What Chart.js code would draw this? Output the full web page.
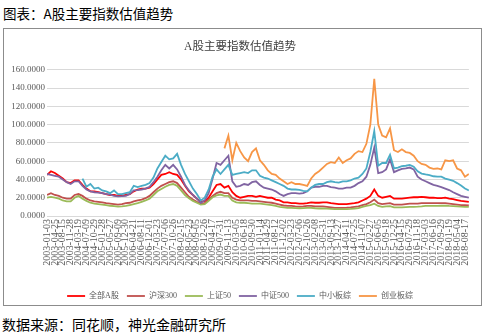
<!DOCTYPE html>
<html><head><meta charset="utf-8">
<script src="https://cdn.jsdelivr.net/npm/chart.js@4.4.1/dist/chart.umd.min.js"></script>
<style>
html,body{margin:0;padding:0;background:#fff;width:485px;height:335px;overflow:hidden;}
#hdr{position:absolute;left:3px;top:3px;font-size:13.5px;font-family:'Noto Sans CJK SC';color:#000;line-height:20px;white-space:nowrap;}
#box{position:absolute;left:3px;top:28px;width:479px;height:278px;box-sizing:border-box;border:1.5px solid #8c8c8c;}
#ftr{position:absolute;left:2px;top:314px;font-size:14px;font-family:'Noto Sans CJK SC';color:#000;line-height:20px;white-space:nowrap;}
#c{position:absolute;left:4px;top:29px;}
</style></head>
<body>
<div id="hdr">图表：A股主要指数估值趋势</div>
<div id="box"></div>
<canvas id="c" width="476" height="285"></canvas>
<div id="ftr">数据来源：同花顺，神光金融研究所</div>
<script>
// x-axis tick labels (weekly dates shown on the category axis)
const xLabels = [
 '2003-01-03','2003-04-25','2003-08-15','2003-11-28','2004-03-19','2004-07-09','2004-10-29',
 '2005-01-28','2005-05-27','2005-09-09','2005-12-30','2006-04-21','2006-08-11','2006-12-01',
 '2007-03-23','2007-07-06','2007-10-26','2008-02-15','2008-05-23','2008-09-05','2008-12-26',
 '2009-04-17','2009-07-31','2009-11-13','2010-03-05','2010-06-18','2010-09-30','2011-01-14',
 '2011-04-29','2011-08-12','2011-12-02','2012-03-23','2012-07-06','2012-10-26','2013-02-08',
 '2013-05-31','2013-09-13','2013-12-27','2014-04-11','2014-07-25','2014-11-07','2015-02-27',
 '2015-06-05','2015-09-18','2015-12-25','2016-04-15','2016-07-29','2016-11-18','2017-03-03',
 '2017-06-16','2017-09-29','2018-01-19','2018-05-04','2018-08-17'
];
// samples every half tick-interval along the axis
const STEP = 0.5;
const seriesNames = ['全部A股','沪深300','上证50','中证500','中小板综','创业板综'];
const allA = [
 45,49,47,44,41,37,36,39,39,34,
 30,27,27,26,25,24,23,23,22,22,
 23,24,27,29,30,30,31,35,40,45,
 46,48,46,45,40,33,27,23,19,16,
 16,20,27,34,35,31,33,26,22,20,
 21,22,22,21,22,21,20,20,18,17,
 15,15,14,14,13.5,13.5,14,15,14.5,14.5,
 15,15,14,13.5,13,13,13,13.5,14,15,
 17,19,22,29,22,20,21,22,19,19,
 19,19.5,20,20.5,20.5,21,20.5,20,20,19.5,
 19.5,20,19,18.5,17.5,16.5,16,15.5
];
const hs300 = [
 23,25,23,22,20,19,19,23,24,22,
 19,17,16,15.5,15,14,13.5,13,12.5,13,
 14,14.5,16,17,18,19.5,22,26,30,33,
 35,37,38,36,31,26,21,18,15.5,13.5,
 14,18,22,25,26.5,25,25,20,18,17,
 17,17,16.5,16.5,16,15.5,15,14.5,13.5,12.5,
 11.5,11,11,10.5,10.2,10.5,11,11,10.5,10.5,
 10.5,10,9.5,9,9,9,9.2,9.5,10,10.5,
 12,13,15,18,14,13,13.5,14,12.5,12.5,
 12.5,13,13.5,13.5,13.5,14,14,14,14,14,
 14,14,13.5,13,12.5,12,12,11.5
];
const sz50 = [
 20,21,20,19,17,16,16,20,22,19,
 16.5,14.5,13.5,13,12.5,12,11.2,10.8,10.3,10.5,
 11,12,13,14,15.5,17,19,23,27,29.5,
 32,34,35,33,28,23,19.5,16.5,14.5,12.5,
 13,16.5,20.5,22.5,23.5,22,22,17,15,14.5,
 14.5,14,13.5,13.5,13.5,13,12.5,12,11,10,
 9.5,9,9,8.6,8.5,8.7,9,9,8.5,8.2,
 8.2,8,7.8,7.5,7.5,7.5,7.6,7.8,8.2,8.7,
 10,11,12,13.5,11,10,10.5,10.8,9.5,9.5,
 9.5,9.8,10,10,10.2,10.5,11,11,11,11,
 11.2,11.3,11,10.8,10.5,10.2,10,10
];
const zz500 = [
 46,45,44,43,40,37,35,38,38,33,
 29,27,26,25.5,25,24,23.4,22,21.5,21.7,
 22,24,28,28.4,29,30,32,37,43,50,
 56,52,56,51,43,34,28,23,19,14.5,
 17,25,41,58,56,61,66,38,32,33,
 35,34,37,38,34,31,30,29,27,24,
 22,24,25,25,24.5,25,27,31,32,32,
 33,33,31.5,31,30,30,31,31,33,36,
 38,43,56,75,47,48,51,62,48,50,
 51.5,52,53,51,43,40,38,36,34,33,
 31.6,30,28.4,26,24,22,21,20
];
const zxb = [
 null,null,null,null,null,null,null,null,null,41,
 32,35,30,31,28,27,25,28,24,24,
 25,26,33,31.6,33,34,36,42,52,59,
 66,62,63,68,56,46,38,30,24,17,
 20,29,43,51,46,51,56,45,46,47,
 48,47,50,50,44,42,41,39,37,35,
 33,30,29,29,28.5,27.5,27,31,34,35,
 35,37,38,37,36.5,38,38,39,41,42,
 46,52,70,93,55,58,58,67,52,53,
 54.6,55,56,54,49,46.4,45.5,44.8,43.5,43,
 43,41,39.8,38.5,36,33.3,30,28
];
const cyb = [
 null,null,null,null,null,null,null,null,null,null,
 null,null,null,null,null,null,null,null,null,null,
 null,null,null,null,null,null,null,null,null,null,
 null,null,null,null,null,null,null,null,null,null,
 null,null,null,null,null,74,88,61,80,71,
 64,60,70,74,61,56,50,46,45,41,
 38,35,37,35,35,34,33,41,46,49,
 53,57,59,58,64,58,61,63,68,71,
 70,79,100,150,100,88,86,96,72,70,
 73,70,69,66,60,57,56,53,51.5,52,
 51,61,60,61,52,50,43,46
];
const yTicks = [0,20,40,60,80,100,120,140,160];

const colors = ['#FF0000','#C0504D','#9BBB59','#8064A2','#4BACC6','#F79646'];
const seriesValues = [allA, hs300, sz50, zz500, zxb, cyb];
const CJK = "'Liberation Serif','Noto Sans CJK SC'";

const datasets = seriesValues.map((vals, si) => ({
  label: seriesNames[si],
  data: vals.map((v, i) => ({x: i * STEP, y: v})),
  borderColor: colors[si],
  backgroundColor: colors[si],
  borderWidth: 1.8,
  pointRadius: 0,
  tension: 0,
  spanGaps: false,
  order: 5 - si
}));

new Chart(document.getElementById('c'), {
  type: 'line',
  data: {datasets},
  options: {
    responsive: false, animation: false, devicePixelRatio: 1,
    layout: {padding: {left: 0, right: 4, top: 0, bottom: 4}},
    plugins: {
      title: {display: true, text: 'A股主要指数估值趋势',
        font: {family: CJK, size: 11.5, weight: 'normal'}, color: '#404040',
        padding: {top: 11, bottom: 16}},
      legend: {position: 'bottom',
        labels: {usePointStyle: true, pointStyle: 'line', pointStyleWidth: 18,
          font: {family: CJK, size: 8}, color: '#595959', padding: 8,
          sort: (a, b) => a.datasetIndex - b.datasetIndex}},
      tooltip: {enabled: false}
    },
    scales: {
      x: {type: 'linear', min: 0, max: 53.5,
        afterBuildTicks: s => { s.ticks = xLabels.map((_, i) => ({value: i})); },
        afterFit: s => { s.height = 68; },
        grid: {display: false, drawTicks: false},
        border: {display: true, color: '#d9d9d9'},
        ticks: {autoSkip: false, minRotation: 90, maxRotation: 90, padding: 3,
          font: {family: "'Liberation Serif'", size: 10}, color: '#595959',
          callback: v => xLabels[v]}},
      y: {min: 0, max: 160,
        afterBuildTicks: s => { s.ticks = yTicks.map(v => ({value: v})); },
        afterFit: s => { s.width = 43; },
        ticks: {padding: 2, font: {family: "'Liberation Serif'", size: 9}, color: '#595959',
          callback: v => v.toFixed(4)},
        grid: {color: '#d9d9d9', drawTicks: false},
        border: {display: false}}
    }
  }
});
</script>
</body></html>
